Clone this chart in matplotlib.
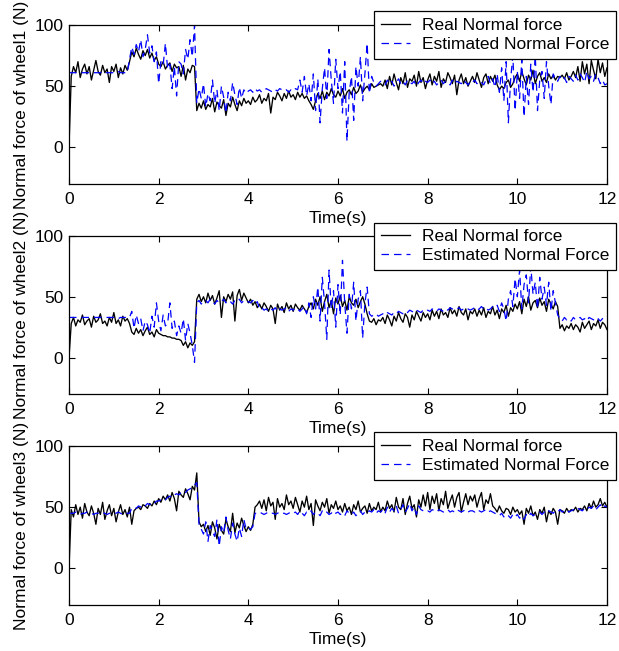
import numpy as np
import matplotlib
matplotlib.use("Agg")
import matplotlib.pyplot as plt

plt.rcParams['font.family'] = ['Liberation Sans', 'DejaVu Sans']

dt = 0.05  # sampling step (s)

w1_real = [
    0, 58, 66, 61, 70, 57, 64, 68, 60, 66, 55, 63, 71, 62, 59, 67, 61, 64, 53, 66,
    62, 68, 57, 65, 60, 67, 63, 70, 78, 74, 81, 76, 72, 79, 75, 80, 73, 77, 71, 74,
    68, 66, 70, 64, 67, 69, 62, 68, 65, 66, 58, 67, 55, 64, 61, 67, 66, 30, 36, 32,
    38, 31, 35, 33, 40, 29, 37, 34, 32, 39, 26, 36, 33, 41, 35, 30, 38, 34, 40, 36,
    38, 35, 41, 37, 39, 43, 36, 40, 38, 44, 28, 41, 39, 45, 42, 38, 44, 40, 46, 41,
    43, 39, 45, 41, 44, 40, 42, 38, 35, 31, 38, 44, 40, 46, 39, 45, 42, 48, 43, 41,
    46, 42, 48, 40, 45, 47, 43, 49, 44, 46, 51, 45, 48, 50, 47, 52, 49, 50, 51, 52,
    50, 55, 48, 58, 51, 60, 53, 47, 57, 52, 61, 49, 56, 54, 59, 50, 62, 53, 57, 48,
    55, 60, 51, 58, 54, 62, 49, 56, 53, 61, 57, 52, 59, 43, 55, 60, 52, 57, 50, 54,
    58, 53, 61, 55, 49, 57, 60, 52, 58, 54, 59, 51, 47, 50, 48, 53, 55, 49, 52, 57,
    60, 54, 62, 56, 51, 59, 55, 63, 52, 58, 61, 54, 57, 53, 60, 56, 59, 55, 58, 57,
    59, 56, 61, 55, 58, 62, 57, 66, 54, 70, 60, 68, 52, 71, 63, 56, 72, 61, 69, 58,
    65]

w1_est = [
    61, 61, 61, 61, 61, 61, 61, 61, 61, 61, 61, 61, 61, 61, 61, 62, 61, 61, 61, 61,
    61, 61, 62, 61, 61, 61, 61, 72, 82, 76, 84, 78, 88, 74, 80, 92, 77, 83, 70, 78,
    52, 70, 67, 85, 64, 68, 48, 66, 42, 70, 68, 60, 80, 72, 88, 74, 100, 36, 48, 40,
    52, 33, 44, 38, 55, 36, 47, 30, 50, 41, 28, 45, 38, 53, 43, 35, 49, 40, 47, 44,
    46, 47, 45, 48, 46, 47, 45, 46, 48, 47, 46, 45, 47, 46, 48, 47, 46, 47, 45, 47,
    46, 48, 47, 55, 45, 58, 42, 52, 38, 60, 30, 56, 20, 48, 65, 40, 80, 55, 36, 72,
    48, 62, 28, 70, 5, 45, 58, 22, 66, 50, 74, 38, 60, 85, 44, 58, 53, 50, 52, 54,
    53, 51, 55, 52, 54, 50, 53, 56, 52, 54, 51, 55, 53, 52, 54, 50, 53, 55, 52, 54,
    53, 55, 52, 54, 51, 53, 55, 52, 54, 53, 51, 55, 52, 54, 53, 52, 55, 53, 51, 54,
    53, 55, 52, 54, 53, 51, 55, 58, 52, 56, 49, 60, 45, 65, 38, 70, 20, 55, 75, 30,
    62, 40, 72, 25, 58, 35, 68, 45, 75, 30, 55, 62, 40, 70, 50, 35, 60, 56, 54, 58,
    55, 57, 53, 58, 56, 54, 59, 55, 60, 57, 53, 62, 56, 58, 54, 60, 57, 52, 55, 51,
    52]

w2_real = [
    0, 28, 33, 26, 31, 29, 35, 27, 30, 32, 25, 34, 29, 31, 36, 28, 30, 26, 33, 29,
    37, 28, 31, 26, 34, 30, 32, 28, 21, 19, 24, 20, 23, 18, 22, 25, 19, 21, 17, 23,
    20, 19, 18, 18, 17, 17, 16, 16, 15, 15, 14, 10, 13, 8, 12, 10, 13, 48, 52, 46,
    50, 45, 53, 47, 51, 44, 49, 55, 33, 50, 46, 52, 48, 54, 30, 51, 56, 47, 53, 49,
    45, 48, 43, 46, 41, 44, 40, 45, 42, 38, 43, 40, 28, 44, 39, 42, 37, 45, 40, 43,
    38, 44, 41, 39, 43, 40, 37, 42, 45, 40, 48, 43, 50, 38, 46, 52, 41, 47, 36, 49,
    44, 51, 42, 47, 39, 50, 45, 43, 48, 41, 46, 50, 44, 36, 30, 29, 32, 27, 31, 30,
    33, 28, 35, 31, 26, 34, 30, 37, 32, 29, 36, 33, 25, 35, 31, 38, 34, 30, 37, 33,
    36, 31, 39, 34, 38, 32, 40, 35, 37, 33, 41, 36, 39, 34, 42, 37, 35, 40, 31, 38,
    36, 40, 34, 39, 35, 41, 33, 38, 36, 42, 35, 39, 32, 40, 37, 43, 34, 41, 38, 44,
    40, 46, 36, 48, 42, 50, 39, 45, 47, 41, 49, 43, 46, 38, 48, 44, 40, 46, 42, 24,
    27, 22, 26, 24, 28, 23, 27, 25, 21, 29, 24, 27, 30, 23, 28, 26, 31, 24, 29, 27,
    23]

w2_est = [
    33, 33, 33, 33, 33, 33, 33, 33, 33, 33, 33, 33, 33, 33, 33, 33, 33, 33, 33, 33,
    33, 33, 32, 33, 33, 33, 33, 33, 38, 24, 35, 28, 32, 22, 30, 27, 20, 34, 25, 45,
    30, 22, 35, 26, 28, 45, 24, 30, 18, 26, 20, 32, 14, 28, 20, 10, -4, 45, 47, 44,
    46, 47, 45, 48, 46, 44, 47, 45, 46, 48, 45, 47, 46, 44, 47, 46, 48, 45, 47, 46,
    46, 45, 47, 44, 46, 40, 41, 39, 40, 38, 40, 39, 41, 38, 40, 39, 40, 41, 38, 40,
    39, 41, 40, 38, 40, 42, 36, 45, 33, 50, 40, 58, 30, 66, 45, 15, 72, 40, 55, 25,
    60, 35, 80, 45, 20, 52, 40, 62, 30, 48, 55, 16, 45, 58, 36, 34, 35, 36, 34, 35,
    36, 35, 37, 36, 35, 37, 36, 38, 37, 36, 38, 37, 39, 38, 37, 39, 38, 37, 39, 38,
    39, 38, 40, 39, 38, 40, 39, 38, 40, 39, 41, 40, 39, 40, 41, 39, 40, 41, 40, 39,
    40, 41, 39, 40, 42, 40, 41, 39, 40, 42, 41, 43, 38, 45, 40, 30, 48, 55, 42, 65,
    50, 72, 40, 60, 68, 45, 75, 52, 62, 40, 66, 48, 58, 43, 62, 38, 55, 45, 35, 32,
    30, 33, 31, 32, 30, 33, 31, 32, 33, 31, 32, 30, 33, 32, 31, 33, 32, 30, 32, 33,
    32]

w3_real = [
    0, 48, 42, 52, 44, 50, 41, 53, 46, 43, 51, 45, 36, 49, 44, 54, 40, 47, 52, 43,
    49, 38, 46, 52, 44, 48, 42, 50, 36, 47, 49, 50, 48, 52, 51, 49, 53, 51, 55, 52,
    57, 54, 59, 56, 60, 55, 62, 57, 47, 63, 60, 58, 65, 61, 56, 67, 64, 78, 38, 34,
    36, 30, 35, 27, 38, 33, 24, 36, 31, 28, 40, 34, 30, 45, 29, 37, 33, 41, 35, 30,
    34, 31, 36, 50, 52, 55, 49, 56, 47, 58, 51, 54, 40, 57, 50, 53, 48, 60, 52, 55,
    49, 58, 52, 46, 55, 50, 59, 48, 53, 35, 56, 51, 47, 54, 50, 57, 45, 52, 49, 55,
    48, 51, 46, 53, 47, 50, 44, 52, 48, 55, 46, 49, 51, 45, 53, 47, 50, 48, 54, 46,
    50, 47, 55, 49, 52, 46, 58, 50, 48, 57, 44, 53, 59, 49, 52, 42, 56, 50, 60, 51,
    62, 48, 59, 53, 61, 47, 57, 52, 63, 49, 55, 60, 50, 58, 62, 46, 54, 61, 52, 59,
    55, 60, 50, 57, 62, 48, 56, 53, 61, 51, 49, 46, 51, 47, 45, 49, 48, 44, 50, 46,
    48, 44, 47, 36, 49, 45, 51, 43, 46, 40, 48, 45, 50, 38, 47, 44, 49, 46, 36, 48,
    47, 45, 49, 46, 48, 47, 50, 46, 49, 48, 51, 47, 53, 49, 55, 50, 52, 57, 51, 54,
    50]

w3_est = [
    45, 45, 45, 46, 45, 44, 45, 45, 46, 45, 45, 44, 45, 45, 46, 45, 45, 44, 45, 45,
    45, 45, 46, 45, 44, 45, 45, 45, 49, 50, 49, 51, 50, 52, 51, 53, 52, 54, 53, 55,
    55, 56, 57, 56, 58, 59, 58, 60, 61, 60, 62, 63, 62, 64, 65, 66, 68, 70, 36, 32,
    28, 38, 22, 35, 30, 26, 40, 18, 34, 29, 42, 31, 24, 37, 28, 22, 33, 26, 40, 32,
    33, 32, 34, 45, 45, 46, 45, 44, 45, 46, 45, 45, 44, 45, 46, 45, 45, 44, 45, 46,
    45, 46, 44, 47, 45, 43, 46, 45, 47, 44, 46, 45, 43, 47, 45, 46, 44, 45, 47, 45,
    46, 44, 45, 43, 47, 45, 44, 46, 43, 45, 47, 44, 46, 45, 47, 46, 48, 45, 47, 46,
    48, 45, 50, 46, 49, 47, 51, 45, 48, 52, 46, 49, 53, 47, 50, 44, 51, 48, 47, 46,
    47, 46, 48, 47, 46, 48, 47, 46, 47, 48, 46, 47, 46, 48, 47, 46, 47, 48, 46, 47,
    47, 46, 48, 47, 46, 47, 48, 46, 47, 46, 45, 44, 43, 45, 42, 44, 43, 41, 44, 42,
    44, 41, 43, 40, 44, 42, 45, 43, 44, 45, 46, 44, 46, 45, 47, 46, 45, 47, 46, 48,
    46, 47, 48, 46, 47, 48, 47, 49, 48, 47, 49, 48, 50, 49, 51, 48, 50, 52, 49, 51,
    50]

series = [(w1_real, w1_est, "Normal force of wheel1 (N)"),
          (w2_real, w2_est, "Normal force of wheel2 (N)"),
          (w3_real, w3_est, "Normal force of wheel3 (N)")]

x_ticks = [0, 2, 4, 6, 8, 10, 12]
y_ticks = [0, 50, 100]
legend_labels = ["Real Normal force", "Estimated Normal Force"]

FS = 12.5

W, H = 619, 651
fig = plt.figure(figsize=(W / 100, H / 100), dpi=100)
fig.patch.set_facecolor('white')

# axes pixel boxes (top, bottom)
boxes = [(25, 184), (236, 394), (446, 605)]
left_px, right_px = 69, 607

for (real, est, ylab), (top, bot) in zip(series, boxes):
    ax = fig.add_axes([left_px / W, 1 - bot / H, (right_px - left_px) / W, (bot - top) / H])
    t_real = np.arange(len(real)) * dt
    t_est = np.arange(len(est)) * dt
    ax.plot(t_real, real, color='black', lw=0.95, label=legend_labels[0])
    ax.plot(t_est, est, color='#0000ff', lw=0.9, ls=(0, (6, 4)), label=legend_labels[1])
    ax.set_xlim(0, 12)
    ax.set_ylim(-30, 100)
    ax.set_xticks(x_ticks)
    ax.set_yticks(y_ticks)
    ax.tick_params(direction='in', top=True, right=True, labelsize=FS, length=4, width=0.8)
    ax.tick_params(axis='x', pad=6)
    ax.tick_params(axis='y', pad=4)
    for s in ax.spines.values():
        s.set_linewidth(0.9)
    ax.set_xlabel("Time(s)", fontsize=FS, labelpad=2.5)
    ax.set_ylabel(ylab, fontsize=FS, labelpad=4)
    leg = ax.legend(loc='upper left', bbox_to_anchor=(0.567, 1.085), fontsize=FS,
                    frameon=True, fancybox=False, edgecolor='black', framealpha=1,
                    handlelength=1.7, handletextpad=0.7, labelspacing=0.22,
                    borderpad=0.38, borderaxespad=0)
    leg.get_frame().set_linewidth(0.9)

fig.savefig("out.png", dpi=100, facecolor='white')
